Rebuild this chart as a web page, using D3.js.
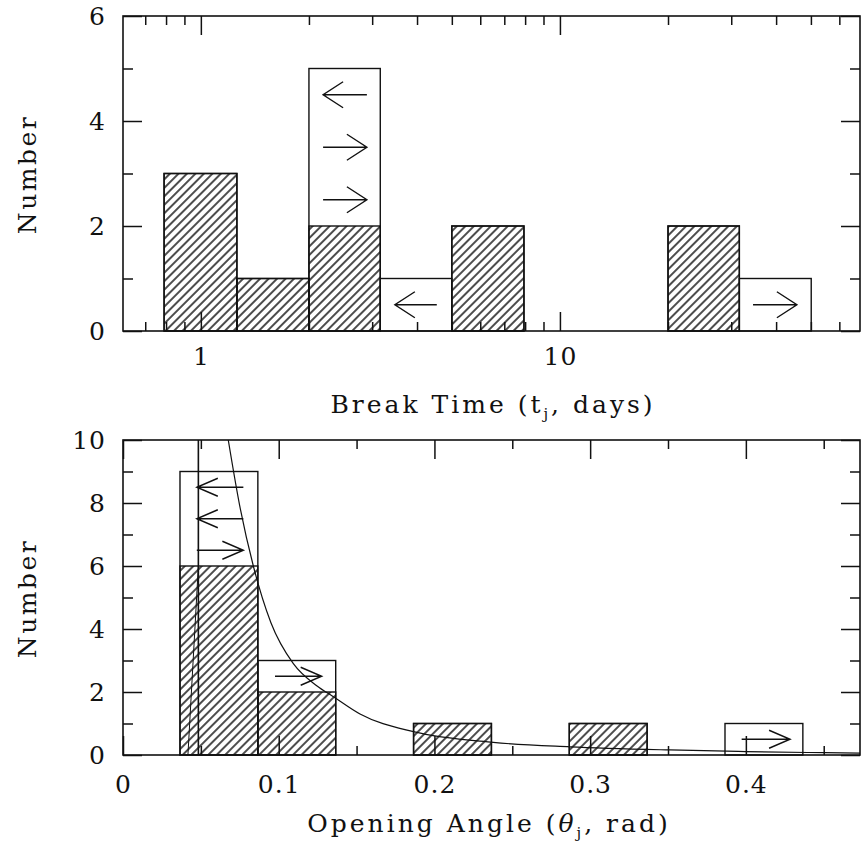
<!DOCTYPE html>
<html>
<head>
<meta charset="utf-8">
<script src="https://cdn.jsdelivr.net/npm/d3@7"></script>
<style>
  body { margin: 0; background: #fff; }
  text { font-family: "DejaVu Serif", "Liberation Serif", serif; fill: #111; }
</style>
</head>
<body>
<svg id="chart" width="861" height="849"></svg>
<script>
// ---- top panel : break time (days, log bins)
const tjEdges   = [0.79, 1.26, 2.0, 3.16, 5.0, 7.94, 12.6, 20.0, 31.6, 50.1];
const tjHatched = [3, 1, 2, 0, 2, 0, 0, 2, 0];
const tjTotal   = [3, 1, 5, 1, 2, 0, 0, 2, 1];
// arrows: [tail, tip, y]
const tjArrows  = [[2.90, 2.19, 4.5], [2.19, 2.90, 3.5], [2.19, 2.90, 2.5], [4.54, 3.47, 0.5], [34.5, 45.7, 0.5]];
const tjMajor   = [1, 10];
const tjMinor   = [0.7, 0.8, 0.9, 2, 3, 4, 5, 6, 7, 8, 9, 20, 30, 40, 50, 60];

// ---- bottom panel : opening angle (rad)
const thEdges   = [0.0366, 0.0866, 0.1366, 0.1866, 0.2366, 0.2866, 0.3366, 0.3866, 0.4366];
const thHatched = [6, 2, 0, 1, 0, 1, 0, 0];
const thTotal   = [9, 3, 0, 1, 0, 1, 0, 1];
const thArrows  = [[0.0773, 0.0474, 8.5], [0.0773, 0.0474, 7.5], [0.0474, 0.0773, 6.5], [0.0976, 0.1276, 2.5], [0.3973, 0.4284, 0.5]];
const thCurve   = [[0.0676, 10], [0.075, 7.9], [0.0837, 6.0], [0.095, 4.2], [0.1094, 2.9], [0.1244, 2.2],
                   [0.1351, 1.85], [0.1522, 1.3], [0.1865, 0.74], [0.2378, 0.4], [0.287, 0.26],
                   [0.351, 0.16], [0.40, 0.11], [0.44, 0.08], [0.4733, 0.06]];
const thLimit   = [[0.0484, 0], [0.0484, 10]];
const thBranch  = [[0.0417, 0], [0.0484, 6]];
const thMajor   = [0, 0.1, 0.2, 0.3, 0.4];
const thMinor   = [0.05, 0.15, 0.25, 0.35, 0.45];

const svg = d3.select("#chart");
const ink = "#111";

// hatch pattern
const defs = svg.append("defs");
defs.append("pattern")
    .attr("id", "hatch")
    .attr("patternUnits", "userSpaceOnUse")
    .attr("width", 6).attr("height", 6)
    .attr("patternTransform", "rotate(45)")
  .append("line")
    .attr("x1", 3).attr("y1", 0).attr("x2", 3).attr("y2", 6)
    .attr("stroke", ink).attr("stroke-width", 1.5);

const L = 123, R = 860;

function panel(opts) {
  const g = svg.append("g");
  const x = opts.x, y = opts.y;
  const top = y.range()[1], bot = y.range()[0];
  const clipId = "clip" + opts.id;
  defs.append("clipPath").attr("id", clipId)
    .append("rect").attr("x", L).attr("y", top).attr("width", R - L).attr("height", bot - top);

  const bins = opts.total.map((t, i) => ({x0: opts.edges[i], x1: opts.edges[i + 1], t, h: opts.hatched[i]}));

  // open (total) bars
  g.selectAll("rect.tot").data(bins.filter(d => d.t > 0)).join("rect")
    .attr("x", d => x(d.x0)).attr("width", d => x(d.x1) - x(d.x0))
    .attr("y", d => y(d.t)).attr("height", d => y(0) - y(d.t))
    .attr("fill", "none").attr("stroke", ink).attr("stroke-width", 1.4);
  // hatched bars
  g.selectAll("rect.hat").data(bins.filter(d => d.h > 0)).join("rect")
    .attr("x", d => x(d.x0)).attr("width", d => x(d.x1) - x(d.x0))
    .attr("y", d => y(d.h)).attr("height", d => y(0) - y(d.h))
    .attr("fill", "url(#hatch)").attr("stroke", ink).attr("stroke-width", 1.4);

  // extra lines (curve etc.)
  const lg = g.append("g").attr("clip-path", `url(#${clipId})`);
  (opts.lines || []).forEach(l => {
    lg.append("path").datum(l.pts)
      .attr("d", d3.line().x(d => x(d[0])).y(d => y(d[1])).curve(l.curve || d3.curveLinear))
      .attr("fill", "none").attr("stroke", ink).attr("stroke-width", l.w || 1.2);
  });

  // arrows
  opts.arrows.forEach(a => {
    const x0 = x(a[0]), x1 = x(a[1]), yy = y(a[2]);
    const dir = Math.sign(x1 - x0);
    const hx = opts.head[0], hy = opts.head[1];
    g.append("path")
      .attr("d", `M${x0},${yy}L${x1},${yy}M${x1 - dir * hx},${yy - hy}L${x1},${yy}L${x1 - dir * hx},${yy + hy}`)
      .attr("fill", "none").attr("stroke", ink).attr("stroke-width", 1.4);
  });

  // axes: ticks inside on all four sides
  const fmt = opts.fmt;
  const mk = (axis, vals, size, labels, pad) => axis.tickValues(vals).tickSize(-size)
      .tickPadding(pad || 0).tickFormat(labels ? fmt : () => "");
  const ax = [
    [d3.axisBottom(x), `translate(0,${bot})`, opts.xMajor, 19, true, opts.xPad],
    [d3.axisBottom(x), `translate(0,${bot})`, opts.xMinor, 9, false],
    [d3.axisTop(x), `translate(0,${top})`, opts.xMajor, 19, false],
    [d3.axisTop(x), `translate(0,${top})`, opts.xMinor, 9, false],
    [d3.axisLeft(y), `translate(${L},0)`, opts.yMajor, 19, true, 17],
    [d3.axisLeft(y), `translate(${L},0)`, opts.yMinor, 10, false],
    [d3.axisRight(y), `translate(${R},0)`, opts.yMajor, 19, false],
    [d3.axisRight(y), `translate(${R},0)`, opts.yMinor, 10, false]
  ];
  ax.forEach(([a, tr, vals, size, labels, pad], i) => {
    const isY = i >= 4;
    const axis = mk(a, vals, size, labels, pad);
    if (isY && labels) axis.tickFormat(d3.format("d"));
    const ag = g.append("g").attr("transform", tr).call(axis);
    ag.select(".domain").remove();
    ag.selectAll("line").attr("stroke", ink).attr("stroke-width", 1.5);
    ag.selectAll("text").attr("font-size", 25).attr("fill", ink)
      .attr("font-family", '"DejaVu Serif", serif').attr("letter-spacing", 1);
  });

  g.append("rect").attr("x", L).attr("y", top).attr("width", R - L).attr("height", bot - top)
    .attr("fill", "none").attr("stroke", ink).attr("stroke-width", 1.6);

  // y label
  g.append("text").attr("transform", `translate(36,${(top + bot) / 2 + 1}) rotate(-90)`)
    .attr("text-anchor", "middle").attr("font-size", 25).attr("letter-spacing", 2.5).text("Number");
  return g;
}

// top
const xt = d3.scaleLog().domain([0.607, 68.5]).range([L, R]);
const yt = d3.scaleLinear().domain([0, 6]).range([331, 16]);
panel({
  id: "t", x: xt, y: yt, edges: tjEdges, total: tjTotal, hatched: tjHatched, arrows: tjArrows,
  head: [20, 13], xMajor: tjMajor, xMinor: tjMinor, xPad: 16,
  yMajor: [0, 2, 4, 6], yMinor: [1, 3, 5], fmt: d3.format("d")
});
const t1 = svg.append("text").attr("x", 493).attr("y", 413).attr("text-anchor", "middle")
  .attr("font-size", 25).attr("letter-spacing", 3);
t1.append("tspan").text("Break Time (t");
t1.append("tspan").attr("font-size", 15).attr("dy", 6).text("j");
t1.append("tspan").attr("dy", -6).text(", days)");

// bottom
const xb = d3.scaleLinear().domain([0, 0.4733]).range([L, R]);
const yb = d3.scaleLinear().domain([0, 10]).range([755, 440]);
panel({
  id: "b", x: xb, y: yb, edges: thEdges, total: thTotal, hatched: thHatched, arrows: thArrows,
  head: [21, 9], xMajor: thMajor, xMinor: thMinor, xPad: 20,
  yMajor: [0, 2, 4, 6, 8, 10], yMinor: [1, 3, 5, 7, 9], fmt: d => d === 0 ? "0" : d3.format(".1f")(d),
  lines: [
    {pts: thCurve, curve: d3.curveMonotoneX, w: 1.2},
    {pts: thLimit, w: 1.6},
    {pts: thBranch, w: 1.0}
  ]
});
const t2 = svg.append("text").attr("x", 489).attr("y", 832).attr("text-anchor", "middle")
  .attr("font-size", 25).attr("letter-spacing", 3);
t2.append("tspan").text("Opening Angle (");
t2.append("tspan").attr("font-style", "italic").text("θ");
t2.append("tspan").attr("font-size", 15).attr("dy", 6).text("j");
t2.append("tspan").attr("dy", -6).text(", rad)");
</script>
</body>
</html>
